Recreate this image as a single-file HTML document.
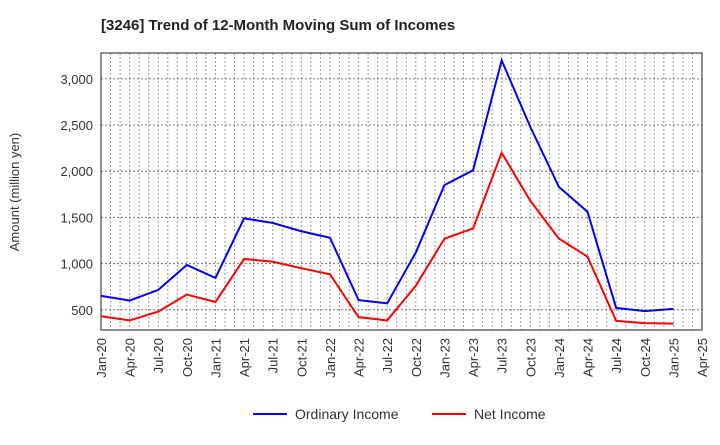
<!DOCTYPE html>
<html><head><meta charset="utf-8"><style>
body{margin:0;background:#fff;font-family:"Liberation Sans",sans-serif}
</style></head><body>
<svg id="chart" width="720" height="440" xmlns="http://www.w3.org/2000/svg" font-family="Liberation Sans, sans-serif">
<text x="101" y="30" font-size="15" font-weight="bold" fill="#222">[3246]  Trend of 12-Month Moving Sum of Incomes</text>
<text transform="translate(19,192) rotate(-90)" text-anchor="middle" font-size="13" fill="#333">Amount (million yen)</text>
<g id="grid"></g><g id="axes"></g><g id="series"></g>
<g>
<line x1="253" y1="414" x2="287" y2="414" stroke="#0000ff" stroke-width="2"/>
<text x="295" y="419" font-size="14" fill="#333">Ordinary Income</text>
<line x1="432" y1="414" x2="466" y2="414" stroke="#ff0000" stroke-width="2"/>
<text x="474" y="419" font-size="14" fill="#333">Net Income</text>
</g>
</svg>
<script>
const xLabels=["Jan-20","Apr-20","Jul-20","Oct-20","Jan-21","Apr-21","Jul-21","Oct-21","Jan-22","Apr-22","Jul-22","Oct-22","Jan-23","Apr-23","Jul-23","Oct-23","Jan-24","Apr-24","Jul-24","Oct-24","Jan-25","Apr-25"];
const yTicks=[500,1000,1500,2000,2500,3000];
const ordinaryIncome=[650,600,715,985,845,1490,1440,1350,1280,605,570,1120,1850,2010,3200,2480,1830,1560,520,485,510];
const netIncome=[430,385,480,665,585,1050,1020,950,885,420,385,760,1270,1380,2200,1680,1270,1075,380,355,350];
const L=101,R=702,T=53,B=330,yMin=281,yMax=3280;
const NS="http://www.w3.org/2000/svg";
const xs=i=>L+(R-L)*i/(xLabels.length-1);
const ys=v=>B-(v-yMin)/(yMax-yMin)*(B-T);
function mk(t,a,p){const e=document.createElementNS(NS,t);for(const k in a)e.setAttribute(k,a[k]);p.appendChild(e);return e;}
const grid=document.getElementById('grid'),axes=document.getElementById('axes'),ser=document.getElementById('series');
for(let m=1;m<(xLabels.length-1)*3;m++){const x=L+(R-L)*m/((xLabels.length-1)*3);
const g=mk('line',{x1:x,x2:x,y1:T,y2:B,stroke:'#999','stroke-dasharray':'2,2','stroke-width':1},grid);
}
yTicks.forEach(v=>{const y=ys(v);
const g=mk('line',{x1:L,x2:R,y1:y,y2:y,stroke:'#777','stroke-dasharray':'2,2','stroke-width':1},grid);

const t=mk('text',{x:L-8,y:y+5,'text-anchor':'end','font-size':13,fill:'#333'},axes);t.textContent=v.toLocaleString('en-US');
});
xLabels.forEach((s,i)=>{const x=xs(i);
const t=mk('text',{transform:`translate(${x+5},${B+8}) rotate(-90)`,'text-anchor':'end','font-size':13,fill:'#333'},axes);t.textContent=s;
});
const fr=mk('rect',{x:L,y:T,width:R-L,height:B-T,fill:'none',stroke:'#444','stroke-width':1.2},axes);

[[ordinaryIncome,'#0000ff','ordinary-income-line'],[netIncome,'#ff0000','net-income-line']].forEach(([d,c,n])=>{
const p=mk('polyline',{points:d.map((v,i)=>xs(i)+','+ys(v)).join(' '),fill:'none',stroke:c,'stroke-width':2},ser);
});
</script>
</body></html>
